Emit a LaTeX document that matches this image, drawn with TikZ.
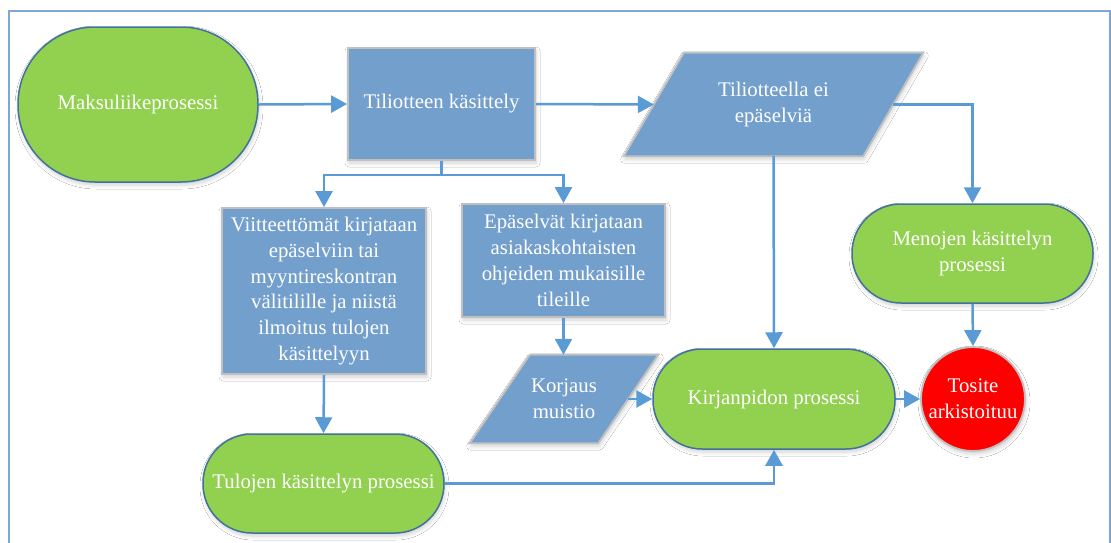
\documentclass[tikz,border=0pt]{standalone}
\usepackage{fontspec}
\setmainfont{Liberation Serif}
\usetikzlibrary{arrows.meta,shadows.blur,calc}
\definecolor{grn}{HTML}{92D050}
\definecolor{stb}{HTML}{41719C}
\definecolor{bfill}{HTML}{739FCC}
\definecolor{bgray}{HTML}{C0C0C0}
\definecolor{arrc}{HTML}{5B9BD5}
\definecolor{frm}{HTML}{7FA6D6}
\pgfdeclarelayer{bg}
\pgfsetlayers{bg,main}
\tikzset{
  txt/.style={text=white, font=\fontsize{20.8}{25.8}\selectfont, align=center, inner sep=0pt},
  shad/.style={blur shadow={shadow xshift=1pt, shadow yshift=-3pt, shadow blur radius=4pt, shadow opacity=18, shadow blur steps=6}},
  stad/.style={txt, rectangle, draw=stb, line width=1.5pt, fill=grn, rounded corners=#1, shad},
  bbox/.style={txt, rectangle, draw=bgray, line width=1.8pt, fill=bfill, shad},
  para/.style={txt, rectangle},
  parashape/.style={draw=bgray, line width=1.8pt, fill=bfill, shad},
  arr/.style={draw=arrc, line width=2.5pt, -{Triangle[length=16pt,width=17pt]}},
  plain/.style={draw=arrc, line width=2.5pt},
}
\begin{document}
\begin{tikzpicture}[x=1pt,y=-1pt]
\useasboundingbox (0,0) rectangle (1111,542);

% nodes
\node[stad=77pt, minimum width=240pt, minimum height=155pt] (maks) at (138,104.5) {Maksuliikeprosessi};
\node[bbox, minimum width=187pt, minimum height=112pt] (tili) at (441.5,104) {Tiliotteen käsittely};
\node[para, minimum width=239pt, minimum height=103pt] (tp) at (773.5,104.5) {Tiliotteella ei\\epäselviä};
\node[bbox, minimum width=204pt, minimum height=166pt] (viit) at (324,291) {Viitteettömät kirjataan\\epäselviin tai\\myyntireskontran\\välitilille ja niistä\\ilmoitus tulojen\\käsittelyyn};
\node[bbox, minimum width=203pt, minimum height=113pt] (epa) at (563.5,260.5) {Epäselvät kirjataan\\asiakaskohtaisten\\ohjeiden mukaisille\\tileille};
\node[stad=49pt, minimum width=241pt, minimum height=99pt] (meno) at (972.5,253.5) {Menojen käsittelyn\\prosessi};
\node[para, minimum width=128pt, minimum height=88pt] (kor) at (564,399) {Korjaus\\muistio};
\node[stad=49pt, minimum width=242pt, minimum height=100pt] (kirj) at (774,399) {Kirjanpidon prosessi};
\node[txt, circle, minimum size=104pt, fill=red, draw=bgray, line width=1.8pt, shad] (tos) at (973,399) {Tosite\\arkistoituu};
\node[stad=49pt, minimum width=241pt, minimum height=99pt] (tulo) at (323.5,483.5) {Tulojen käsittelyn prosessi};

\begin{pgfonlayer}{bg}
\fill[white] (0,0) rectangle (1111,542);
\draw[frm, line width=1.6pt] (9,11) rectangle (1110,600);
\path[parashape] ($(tp.north west)+(30,0)$) -- ($(tp.north east)+(30,0)$) -- ($(tp.south east)+(-30,0)$) -- ($(tp.south west)+(-30,0)$) -- cycle;
\path[parashape] ($(kor.north west)+(30,0)$) -- ($(kor.north east)+(30,0)$) -- ($(kor.south east)+(-30,0)$) -- ($(kor.south west)+(-30,0)$) -- cycle;
\end{pgfonlayer}

% connectors
\coordinate (br) at (443,175);
\draw[arr] (maks.east) -- (tili.west);
\draw[arr] (tili.east) -- (tp.west);
\draw[plain] (tili.south) -- (tili.south |- br);
\draw[arr] (tili.south |- br) -| (viit.north);
\draw[arr] (tili.south |- br) -| (epa.north);
\draw[arr] (tp.east) -| (meno.north);
\draw[arr] (tp.south) -- (kirj.north);
\draw[arr] (epa.south) -- (epa.south |- kor.north);
\draw[arr] (kor.east) -- (kirj.west);
\draw[arr] (viit.south) -- (tulo.north);
\draw[arr] (tulo.east) -| (kirj.south);
\draw[arr] (meno.south) -- (tos.north);
\draw[arr] (kirj.east) -- (tos.west);
\end{tikzpicture}
\end{document}
